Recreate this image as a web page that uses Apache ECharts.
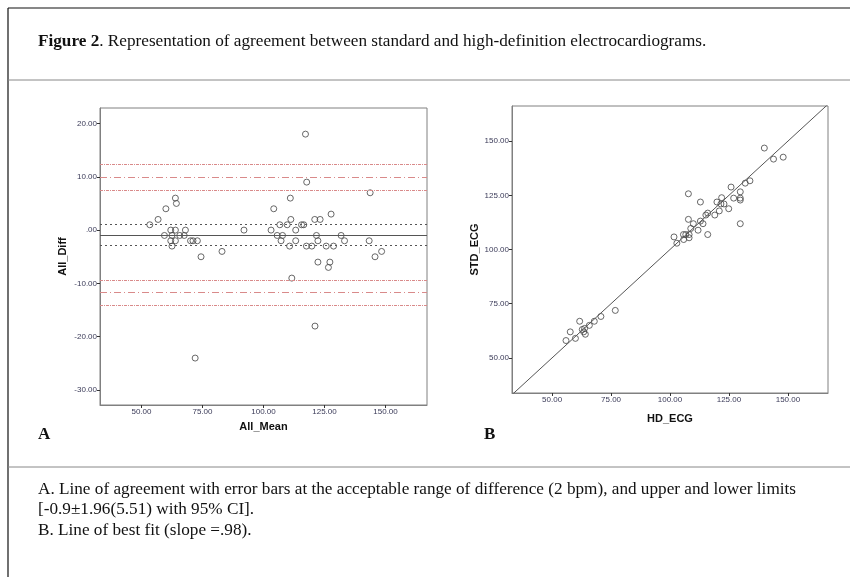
<!DOCTYPE html>
<html><head><meta charset="utf-8">
<script src="https://cdn.jsdelivr.net/npm/echarts@6/dist/echarts.min.js"></script>
<style>html,body{margin:0;padding:0;background:#fff}#c{width:850px;height:577px}</style>
</head><body><div id="c"></div>
<script>
// ---- Data ----
const blandMean = [53.4,56.8,60,63.9,64.3,59.4,62,63.9,62.5,62,63.9,62.5,65.7,67.5,68,70.1,71.1,72.9,74.4,83,72,92,103.1,104.2,105.6,107.8,106.7,107.2,109.7,110.7,111,111.2,111.6,113.2,113.2,115.6,116.5,117.2,117.7,117.6,119.8,121,123.2,121.7,122.3,122.3,121.1,125.7,126.6,127.2,127.7,128.7,131.8,133.2,143.7,143.3,145.7,148.4];
const blandDiff = [1,2,4,6,5,-1,0,0,-1,-2,-2,-3,-1,-1,0,-2,-2,-2,-5,-4,-24,0,0,4,-1,-1,1,-2,1,-3,6,2,-9,0,-2,1,1,18,9,-3,-3,2,2,-1,-2,-6,-18,-3,-7,-6,3,-3,-1,-2,7,-2,-5,-4];
const hdEcg = [140,143.9,148,131.9,133.9,125.9,129.8,127,129.8,129.8,121.9,119.9,121.6,122.9,120.9,124.9,119,107.8,112.9,116,115.2,107.8,109.9,112.9,114,111.9,116,108.8,129.8,101.7,102.9,105.7,106.7,105.8,108.1,108.1,55.9,57.7,59.9,61.7,62.8,63.4,64.1,63.8,65.8,67.9,70.7,76.8];
const stdEcg = [146.8,141.7,142.6,130.6,131.7,128.8,126.6,123.7,123.7,122.8,123.9,121.9,121,121,117.8,118.8,115.9,125.7,121.9,116.8,115.9,113.9,111.9,113.1,111.9,108.9,106.9,109.7,111.9,105.8,102.9,106.9,106.9,104.6,105.4,106.9,58,62,59,66.9,63.1,62,60.9,63.6,65,66.9,69.1,71.9];
const meanDiff = -0.9;
const acceptRange = [1.1, -2.9];
const loaUpper = [7.5, 9.9, 12.3];
const loaLower = [-9.4, -11.7, -14.1];
const fitLine = [[33,33],[167,167]];
const xTicks = [50,75,100,125,150];
const diffTicks = [-30,-20,-10,0,20,10];
const stdTicks = [50,75,100,125,150];
const titleBold = 'Figure 2';
const titleRest = '. Representation of agreement between standard and high-definition electrocardiograms.';
const captionLines = [
  'A. Line of agreement with error bars at the acceptable range of difference (2 bpm), and upper and lower limits',
  '[-0.9\u00b11.96(5.51) with 95% CI].',
  'B. Line of best fit (slope =.98).'
];

// ---- Styles ----
const serif = "'Liberation Serif','Times New Roman',serif";
const narrow = "'Liberation Sans Narrow','Liberation Sans',Arial,sans-serif";
const tickCol = '#3a3a58';
const axisCol = '#808080';
function fmt(v){ if (v===0) return '.00'; return v.toFixed(2); }
function mkAxis(gi, min, max, ticks, name, gap, isY){
  return {
    type:'value', gridIndex:gi, min:min, max:max,
    name:name, nameLocation:'middle', nameGap:gap, nameRotate: isY?90:0,
    nameTextStyle:{fontFamily:narrow, fontWeight:'bold', fontSize:11, color:'#111'},
    splitLine:{show:false},
    axisLine:{show:true, onZero:false, lineStyle:{color:axisCol, width:1}},
    axisTick:{show:true, length:3, customValues:ticks, lineStyle:{color:'#333'}},
    axisLabel:{customValues:ticks, formatter:fmt, fontSize:8, color:tickCol, fontFamily:"'Liberation Sans',Arial,sans-serif", margin:3}
  };
}
const redOuter = {color:'#d98a8a', width:1, type:[3,1,1,1]};
const redMid = {color:'#d98a8a', width:1, type:[7,3,1,3]};
const dotted = {color:'#555', width:1, type:[2,3]};
const solid = {color:'#555', width:1, type:'solid'};
function ml(val, style){ return {yAxis:val, lineStyle:style}; }

const chart = echarts.init(document.getElementById('c'), null, {renderer:'canvas'});
chart.setOption({
  backgroundColor:'#fff',
  animation:false,
  grid:[
    {left:100, top:108, width:327, height:297, show:true, borderColor:axisCol, borderWidth:1, backgroundColor:'transparent'},
    {left:512, top:106, width:316, height:287, show:true, borderColor:axisCol, borderWidth:1, backgroundColor:'transparent'}
  ],
  xAxis:[
    mkAxis(0, 33, 167, xTicks, 'All_Mean', 16, false),
    mkAxis(1, 33, 167, xTicks, 'HD_ECG', 20, false)
  ],
  yAxis:[
    mkAxis(0, -32.8, 22.9, diffTicks, 'All_Diff', 32, true),
    mkAxis(1, 33.8, 166.2, stdTicks, 'STD_ECG', 30, true)
  ],
  graphic:[
    {type:'line', shape:{x1:8,y1:8,x2:850,y2:8}, style:{stroke:'#111', lineWidth:1.2}},
    {type:'line', shape:{x1:8,y1:8,x2:8,y2:577}, style:{stroke:'#111', lineWidth:1.2}},
    {type:'line', shape:{x1:8,y1:80,x2:850,y2:80}, style:{stroke:'#888', lineWidth:1}},
    {type:'line', shape:{x1:8,y1:467,x2:850,y2:467}, style:{stroke:'#888', lineWidth:1}},
    {type:'text', left:38, top:33, style:{
      text:'{b|'+titleBold+'}{n|'+titleRest+'}',
      rich:{b:{fontFamily:serif, fontWeight:'bold', fontSize:17.2, fill:'#111'}, n:{fontFamily:serif, fontSize:17.2, fill:'#111'}}
    }},
    {type:'text', left:38, top:426, style:{text:'A', fontFamily:serif, fontWeight:'bold', fontSize:17, fill:'#111'}},
    {type:'text', left:484, top:426, style:{text:'B', fontFamily:serif, fontWeight:'bold', fontSize:17, fill:'#111'}},
    {type:'text', left:38, top:479, style:{text:captionLines.join('\n'), fontFamily:serif, fontSize:17.2, lineHeight:20.5, fill:'#111'}}
  ],
  series:[
    {type:'scatter', xAxisIndex:0, yAxisIndex:0, symbol:'circle', symbolSize:6,
     itemStyle:{color:'rgba(255,255,255,0)', borderColor:'#444', borderWidth:1},
     data: blandMean.map((m,i)=>[m, blandDiff[i]]),
     markLine:{silent:true, symbol:['none','none'], label:{show:false},
       data:[
         ml(loaUpper[0], redOuter), ml(loaUpper[1], redMid), ml(loaUpper[2], redOuter),
         ml(loaLower[0], redOuter), ml(loaLower[1], redMid), ml(loaLower[2], redOuter),
         ml(acceptRange[0], dotted), ml(acceptRange[1], dotted), ml(meanDiff, solid)
       ]}
    },
    {type:'line', xAxisIndex:1, yAxisIndex:1, data:fitLine, symbol:'none', clip:true,
     lineStyle:{color:'#555', width:1}},
    {type:'scatter', xAxisIndex:1, yAxisIndex:1, symbol:'circle', symbolSize:6,
     itemStyle:{color:'rgba(255,255,255,0)', borderColor:'#444', borderWidth:1},
     data: hdEcg.map((h,i)=>[h, stdEcg[i]])}
  ]
});
</script></body></html>
